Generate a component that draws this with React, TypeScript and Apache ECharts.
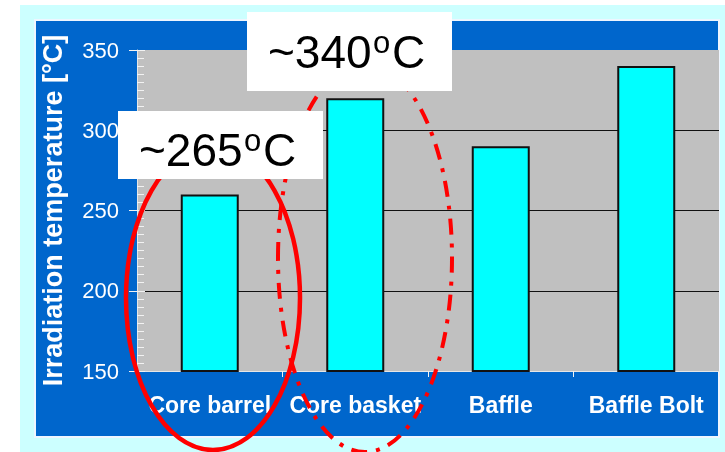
import React, { useEffect, useRef } from "react";
import * as echarts from "echarts";

const categories = ["Core barrel", "Core basket", "Baffle", "Baffle Bolt"];
const temperatures = [260, 320, 290, 340];
const yMin = 150;
const yMax = 350;
const yInterval = 50;
const yAxisName = "Irradiation temperature [°C]";
const calloutTexts = ["~265", "~340"];

const FONT = "'Liberation Sans', Arial, Helvetica, sans-serif";

function callout(
  box: { x: number; y: number; w: number; h: number },
  tx: number,
  ty: number,
  main: string
) {
  return {
    type: "group",
    z: 60,
    children: [
      {
        type: "rect",
        z: 60,
        shape: { x: box.x, y: box.y, width: box.w, height: box.h },
        style: { fill: "#ffffff" },
      },
      {
        type: "text",
        z: 61,
        x: tx,
        y: ty,
        style: {
          text: main,
          fontSize: 46,
          fontFamily: FONT,
          fill: "#000000",
          align: "left",
          verticalAlign: "middle",
        },
      },
      {
        type: "text",
        z: 61,
        x: tx + 105,
        y: ty - 10,
        style: {
          text: "o",
          fontSize: 31,
          fontFamily: FONT,
          fill: "#000000",
          align: "left",
          verticalAlign: "middle",
        },
      },
      {
        type: "text",
        z: 61,
        x: tx + 124,
        y: ty,
        style: {
          text: "C",
          fontSize: 46,
          fontFamily: FONT,
          fill: "#000000",
          align: "left",
          verticalAlign: "middle",
        },
      },
    ],
  };
}

export default function App() {
  const ref = useRef<HTMLDivElement>(null);

  useEffect(() => {
    const chart = echarts.init(ref.current!, null, { renderer: "svg" });
    const tickColor = "#f2f2f2";
    chart.setOption({
      animation: false,
      grid: {
        left: 137,
        right: 6,
        top: 50,
        bottom: 81,
        show: true,
        backgroundColor: "#c0c0c0",
        borderWidth: 0,
      },
      xAxis: {
        type: "category",
        data: categories,
        axisLine: { show: true, lineStyle: { color: "#e6e6e6", width: 1 } },
        axisTick: {
          show: true,
          length: 6,
          alignWithLabel: false,
          lineStyle: { color: tickColor, width: 1 },
        },
        axisLabel: {
          color: "#ffffff",
          fontWeight: "bold",
          fontSize: 23,
          fontFamily: FONT,
          margin: 22,
          interval: 0,
        },
        splitLine: { show: false },
      },
      yAxis: [
        {
          type: "value",
          min: yMin,
          max: yMax,
          interval: yInterval,
          position: "left",
          name: yAxisName,
          nameLocation: "middle",
          nameGap: 71,
          nameRotate: 90,
          nameTextStyle: {
            color: "#ffffff",
            fontWeight: "bold",
            fontSize: 27,
            fontFamily: FONT,
          },
          axisLine: { show: true, lineStyle: { color: "#e6e6e6", width: 1 } },
          axisTick: { show: true, length: 8, lineStyle: { color: tickColor, width: 1 } },
          axisLabel: { color: "#ffffff", fontSize: 22, fontFamily: FONT, margin: 18 },
          splitLine: {
            show: true,
            showMinLine: false,
            showMaxLine: false,
            lineStyle: { color: "#111111", width: 1.2 },
          },
        },
        {
          type: "value",
          min: yMin,
          max: yMax,
          interval: yInterval,
          position: "left",
          offset: 0,
          axisLine: { show: false },
          axisLabel: { show: false },
          splitLine: { show: false },
          axisTick: { show: true, inside: true, length: 8, lineStyle: { color: tickColor, width: 1 } },
          minorTick: { show: true, splitNumber: 10, length: 7, lineStyle: { color: tickColor, width: 1 } },
        },
      ],
      series: [
        {
          type: "bar",
          data: temperatures,
          yAxisIndex: 0,
          barWidth: 58,
          silent: true,
          itemStyle: { color: "#00ffff", borderColor: "#111111", borderWidth: 2 },
        },
      ],
      graphic: [
        {
          type: "rect",
          z: -10,
          shape: { x: 20, y: 5, width: 705, height: 447 },
          style: { fill: "#ccffff" },
        },
        {
          type: "rect",
          z: -9,
          shape: { x: 35, y: 20, width: 684, height: 417 },
          style: { fill: "#0066cc", stroke: "#eef6ff", lineWidth: 2 },
        },
        {
          type: "ellipse",
          z: 50,
          shape: { cx: 213, cy: 298, rx: 87, ry: 152 },
          style: { fill: "none", stroke: "#ff0000", lineWidth: 4.5 },
        },
        {
          type: "ellipse",
          z: 50,
          shape: { cx: 365, cy: 258, rx: 87, ry: 194 },
          style: { fill: "none", stroke: "#ff0000", lineWidth: 4, lineDash: [16, 9, 4, 9] },
        },
        callout({ x: 118, y: 111, w: 205, h: 68 }, 139, 150, calloutTexts[0]),
        callout({ x: 247, y: 12, w: 205, h: 79 }, 268, 52, calloutTexts[1]),
      ],
    });
    return () => chart.dispose();
  }, []);

  return (
    <div
      ref={ref}
      style={{ position: "fixed", left: 0, top: 0, width: 725, height: 452 }}
    />
  );
}
